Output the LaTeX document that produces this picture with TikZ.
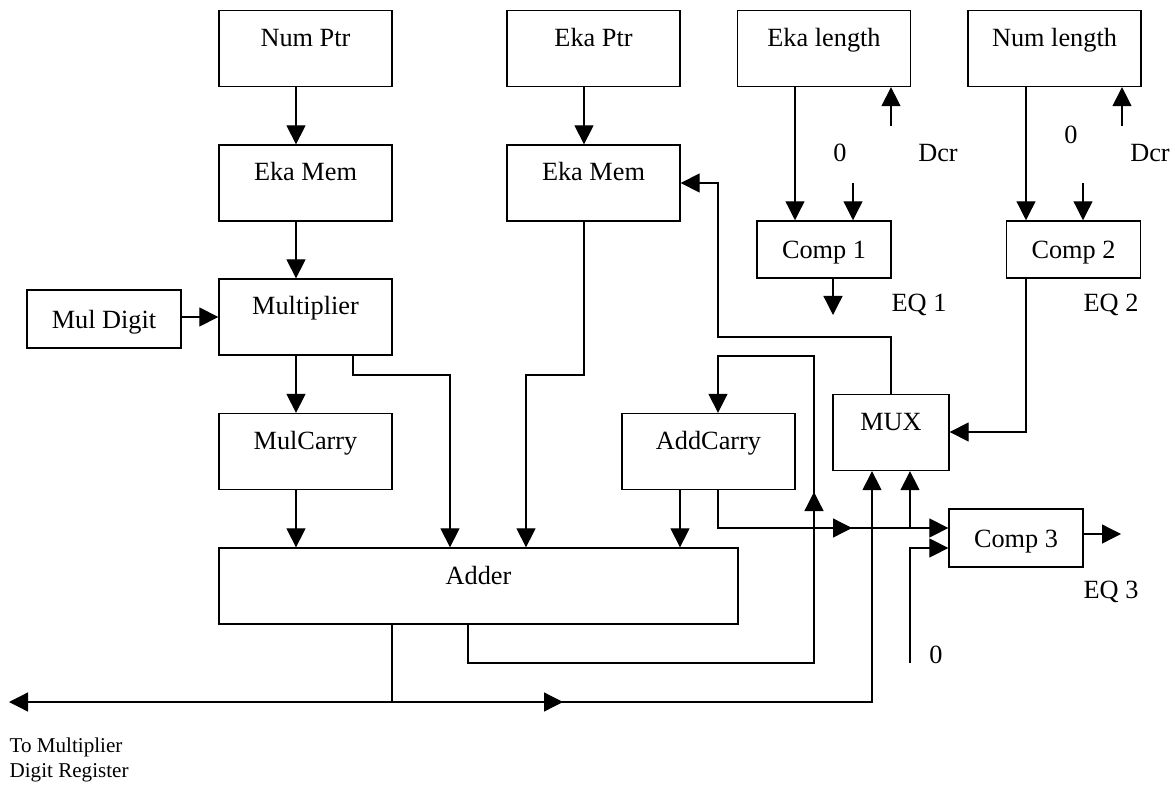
\documentclass[tikz,border=0pt]{standalone}
\usepackage{fontspec}
\setmainfont{Liberation Serif}
\usetikzlibrary{arrows.meta, positioning, calc}

\begin{document}
\begin{tikzpicture}[
    x=0.025cm, y=-0.025cm,
    line width=0.9pt,
    >={Triangle[length=0.475cm, width=0.475cm]},
    blk/.style={draw, minimum width=4.325cm, minimum height=1.9cm,
                text height=0.45cm, text depth=0.55cm,
                font=\fontsize{18.7}{22}\selectfont},
    cmpbox/.style={draw, minimum width=3.35cm, minimum height=1.43cm,
                   text height=0.45cm, text depth=0pt,
                   font=\fontsize{18.7}{22}\selectfont},
    lbl/.style={inner sep=0pt, font=\fontsize{18.7}{22}\selectfont},
    note/.style={inner sep=0pt, align=left,
                 font=\fontsize{15}{17.7}\selectfont}
  ]
  \useasboundingbox (0,0) rectangle (1175,787);

  % Top row: pointers and lengths
  \node[blk] (np) at (305.5, 48.5) {Num Ptr};
  \node[blk] (ep) at (593.5, 48.5) {Eka Ptr};
  \node[blk] (el) at (824, 48.5) {Eka length};
  \node[blk] (nl) at (1054.5, 48.5) {Num length};

  % Memories and comparators
  \node[blk] (em1) at (305.5, 183) {Eka Mem};
  \node[blk] (em2) at (593.5, 183) {Eka Mem};
  \node[cmpbox] (c1) at (824, 249.5) {Comp 1};
  \node[cmpbox] (c2) at (1073.5, 249.5) {Comp 2};

  % Datapath
  \node[cmpbox, minimum width=3.85cm, minimum height=1.45cm] (md) at (104, 319) {Mul Digit};
  \node[blk] (mul) at (305.5, 317) {Multiplier};
  \node[blk] (mc) at (305.5, 451.5) {MulCarry};
  \node[blk] (ac) at (708.5, 451.5) {AddCarry};
  \node[blk, minimum width=2.9cm] (mux) at (891, 432.5) {MUX};
  \node[cmpbox, minimum height=1.45cm] (c3) at (1016, 538) {Comp 3};
  \node[blk, minimum width=12.975cm] (add) at (478.5, 586) {Adder};

  % Labels
  \node[lbl] (z1) at (840, 153) {0};
  \node[lbl] (d1) at (938, 153) {Dcr};
  \node[lbl] (z2) at (1071, 135) {0};
  \node[lbl] (d2) at (1150, 153) {Dcr};
  \node[lbl] (q1) at (919, 305) {EQ 1};
  \node[lbl] (q2) at (1111, 305) {EQ 2};
  \node[lbl] (q3) at (1111, 592) {EQ 3};
  \node[lbl] (z3) at (936, 655) {0};
  \node[note, anchor=north west] (tomul) at (9, 737) {To Multiplier\\Digit Register};

  % Free ends
  \coordinate (in1) at (853, 183);
  \coordinate (dc1) at (891, 126);
  \coordinate (in2) at (1083, 183);
  \coordinate (dc2) at (1122, 126);
  \coordinate (eq1) at (833, 315);
  \coordinate (eq3) at (1121, 534);
  \coordinate (zr3) at (910, 663);
  \coordinate (bus) at (9, 702);

  % Left column
  \draw[->] (np.south -| 296,0) -- (em1.north -| 296,0);
  \draw[->] (em1.south -| 296,0) -- (mul.north -| 296,0);
  \draw[->] (md.east |- 0,317) -- (mul.west |- 0,317);
  \draw[->] (mul.south -| 296,0) -- (mc.north -| 296,0);
  \draw[->] (mc.south -| 296,0) -- (add.north -| 296,0);
  \draw[->] (mul.south -| 353,0) |- (450,375) -- (add.north -| 450,0);

  % Eka column
  \draw[->] (ep.south -| 584,0) -- (em2.north -| 584,0);
  \draw[->] (em2.south -| 584,0) |- (526,375) -- (add.north -| 526,0);

  % Carry loop
  \draw[->] (ac.south -| 680,0) -- (add.north -| 680,0);
  \draw[->] (add.south -| 468,0) |- (814,663) -- (814,356) -| (ac.north -| 718,0);
  \draw[->] (814,663) -- (814,492);
  \draw[->] (ac.south -| 718,0) |- (c3.west |- 0,528);
  \draw[->] (718,528) -- (852,528);
  \draw[->] (910,528) -- (mux.south -| 910,0);

  % Output bus
  \draw[->] (add.south -| 392,0) |- (bus);
  \draw[->] (392,702) -| (mux.south -| 872,0);
  \draw[->] (392,702) -- (563,702);

  % Mux and length counters
  \draw[->] (mux.north -| 891,0) |- (718,337) |- (em2.east |- 0,183);
  \draw[->] (c2.south -| 1026,0) |- (mux.east |- 0,432);
  \draw[->] (el.south -| 795,0) -- (c1.north -| 795,0);
  \draw[->] (in1) -- (c1.north -| in1);
  \draw[->] (dc1) -- (el.south -| dc1);
  \draw[->] (c1.south -| eq1) -- (eq1);
  \draw[->] (nl.south -| 1026,0) -- (c2.north -| 1026,0);
  \draw[->] (in2) -- (c2.north -| in2);
  \draw[->] (dc2) -- (nl.south -| dc2);

  % Comp 3
  \draw[->] (c3.east |- eq3) -- (eq3);
  \draw[->] (zr3) |- (c3.west |- 0,548);
\end{tikzpicture}
\end{document}
